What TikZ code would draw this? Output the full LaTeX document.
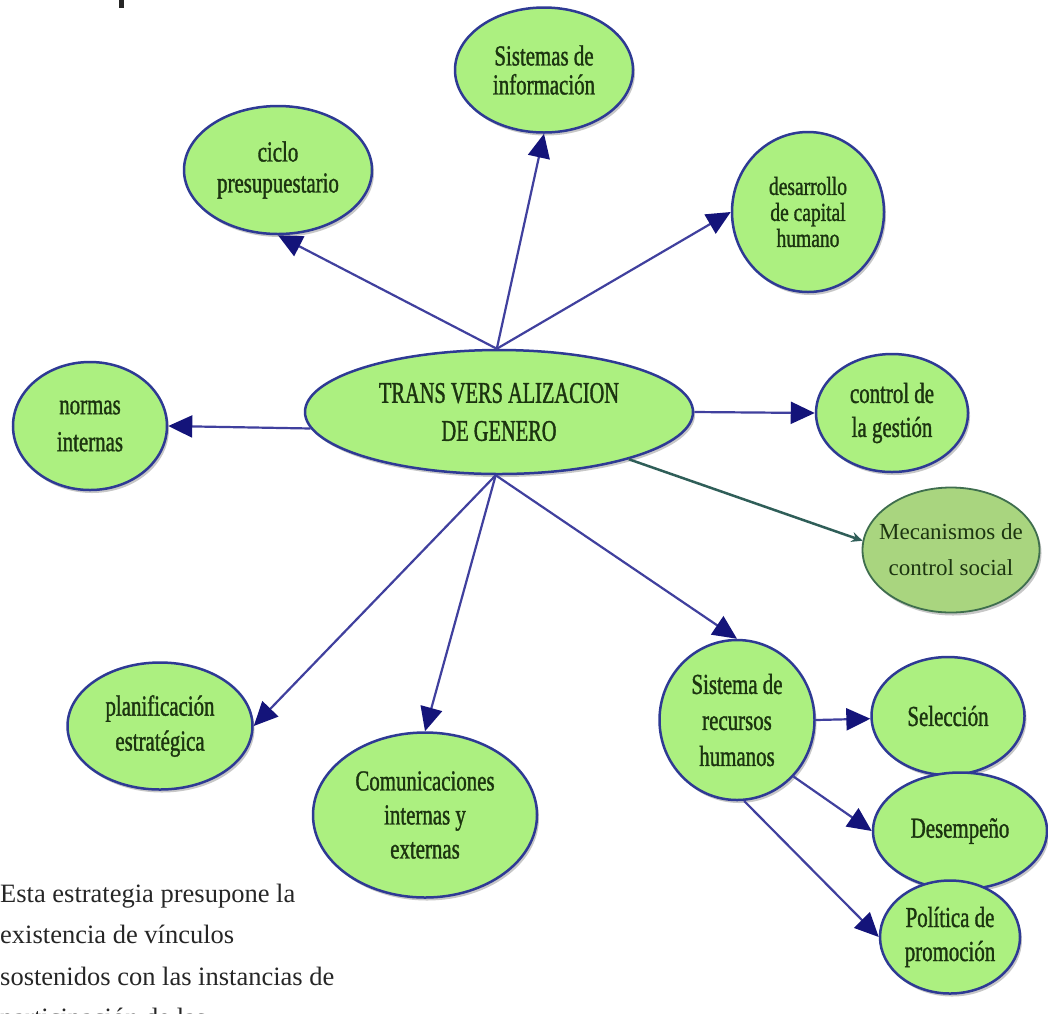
\documentclass[tikz,border=0pt]{standalone}
\usepackage{fontspec}
\setmainfont{Liberation Serif}
\newfontfamily\nodefont[FakeStretch=0.72,FakeBold=1.2]{Liberation Serif}
\newfontfamily\smallnodefont[FakeStretch=0.75,FakeBold=1.2]{Liberation Serif}
\newfontfamily\centerfont[FakeStretch=0.68,FakeBold=1.2]{Liberation Serif}
\usetikzlibrary{arrows.meta,shapes.geometric,shadows}
\definecolor{nodefill}{HTML}{ACF080}
\definecolor{nodeedge}{HTML}{2E3A94}
\definecolor{linkcol}{HTML}{40409E}
\definecolor{tipcol}{HTML}{14147A}
\definecolor{txtcol}{HTML}{1C3410}
\definecolor{mecfill}{HTML}{A9D57F}
\definecolor{mecedge}{HTML}{3F6E4E}
\definecolor{meclink}{HTML}{2F5E58}
\begin{document}
\begin{tikzpicture}[x=1pt,y=-1pt,
  bubble/.style={ellipse, draw=nodeedge, line width=2.5pt, fill=nodefill, inner sep=0pt,
    align=center, text=txtcol, font=\nodefont\fontsize{29}{34}\selectfont,
    drop shadow={shadow xshift=2pt, shadow yshift=-3pt, opacity=0.22, fill=black}},
  sz/.style 2 args={minimum width=#1pt, minimum height=#2pt},
  arr/.style={draw=linkcol, line width=2.2pt, -{Triangle[length=24pt,width=22pt,color=tipcol]}},
  mecarr/.style={draw=meclink, line width=2.5pt, -{Stealth[length=11pt,width=10pt,color=meclink]}}]
\useasboundingbox (0,0) rectangle (1048,1013);
\begin{scope}
\clip (0,0) rectangle (1048,1013);
\fill[white] (0,0) rectangle (1048,1013);
\fill[black!85] (119,0) rectangle (124,8);

\node[bubble, sz={388}{124}, font=\centerfont\fontsize{30}{38}\selectfont] (tg) at (499,412) {TRANS\,VERS\,ALIZACION\\DE GENERO};
\node[bubble, sz={178}{125}, font=\nodefont\fontsize{29}{29}\selectfont] (sis) at (544,70) {Sistemas de\\información};
\node[bubble, sz={188}{128}, font=\nodefont\fontsize{29}{31}\selectfont] (cic) at (278,170) {ciclo\\presupuestario};
\node[bubble, sz={152}{160}, font=\smallnodefont\fontsize{26}{26}\selectfont] (dcap) at (808,212) {desarrollo\\de capital\\humano};
\node[bubble, sz={154}{128}, font=\nodefont\fontsize{29}{37}\selectfont] (nor) at (90,426) {normas\\internas};
\node[bubble, sz={152}{118}] (ctl) at (892,413) {control de\\la gestión};
\node[bubble, sz={177}{125}, fill=mecfill, draw=mecedge, line width=1.8pt, inner xsep=-14pt,
  font=\fontsize{23}{36}\selectfont] (mec) at (951,550) {Mecanismos de\\control social};
\node[bubble, sz={185}{127}, font=\nodefont\fontsize{29}{35}\selectfont] (pla) at (160,726) {planificación\\estratégica};
\node[bubble, sz={224}{165}] (com) at (425,815) {Comunicaciones\\internas y\\externas};
\node[bubble, sz={155}{160}, font=\nodefont\fontsize{29}{36}\selectfont] (srh) at (737,720) {Sistema de\\recursos\\humanos};
\node[bubble, sz={153}{118}] (sel) at (948,716) {Selección};
\node[bubble, sz={174}{117}] (dse) at (960,831) {Desempeño};
\node[bubble, sz={140}{113}] (pol) at (950,937) {Política de\\promoción};

\draw[arr] (tg.92) -- (cic.south);
\draw[arr] (tg.92) -- (sis.south);
\draw[arr] (tg.92) -- (dcap.west);
\draw[arr] (tg.185) -- (nor.east);
\draw[arr] (tg.east) -- (ctl.west);
\draw[mecarr] (tg.-20) -- (mec.174);
\draw[arr] (tg.-93) -- (pla.east);
\draw[arr] (tg.-93) -- (com.north);
\draw[arr] (tg.-93) -- (srh.north);
\draw[arr] (srh.east) -- (sel.182);
\draw[arr] (srh.-45) -- (dse.west);
\draw[arr] (srh.-85) -- (pol.west);

\node[anchor=base west, align=left, inner sep=0pt, text=black!85,
  font=\fontsize{26.5}{41.5}\selectfont] (note) at (0,1026.5)
  {Esta estrategia presupone la\\existencia de vínculos\\sostenidos con las instancias de\\participación de las};
\end{scope}
\end{tikzpicture}
\end{document}
